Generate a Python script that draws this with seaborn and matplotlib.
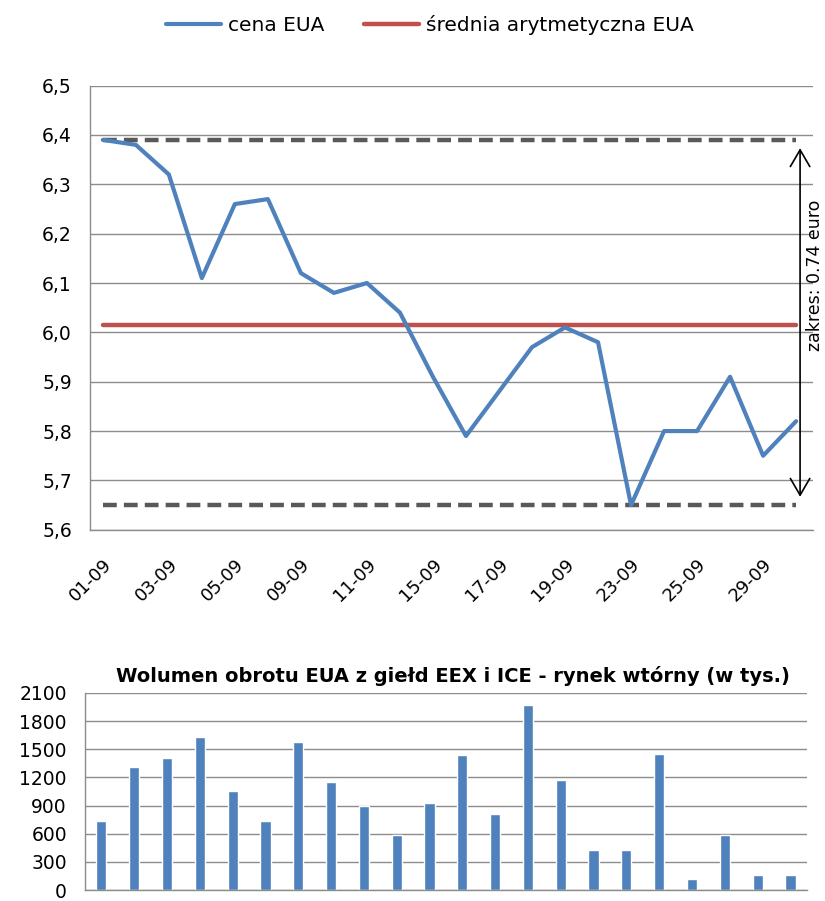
import numpy as np
import pandas as pd
import matplotlib
matplotlib.use('Agg')
import matplotlib.pyplot as plt
import seaborn as sns

# Dane: notowania EUA, wrzesien (dni sesyjne)
dates = ['01-09', '02-09', '03-09', '04-09', '05-09', '08-09', '09-09', '10-09',
         '11-09', '12-09', '15-09', '16-09', '17-09', '18-09', '19-09', '22-09',
         '23-09', '24-09', '25-09', '26-09', '29-09', '30-09']
price = [6.39, 6.38, 6.32, 6.11, 6.26, 6.27, 6.12, 6.08, 6.10, 6.04, 5.91,
         5.79, 5.88, 5.97, 6.01, 5.98, 5.65, 5.80, 5.80, 5.91, 5.75, 5.82]
volume = [737, 1306, 1407, 1627, 1059, 737, 1578, 1149, 899, 585, 930,
          1435, 815, 1975, 1174, 429, 429, 1445, 121, 588, 159, 159]

price_ticks = [5.6, 5.7, 5.8, 5.9, 6.0, 6.1, 6.2, 6.3, 6.4, 6.5]
volume_ticks = [0, 300, 600, 900, 1200, 1500, 1800, 2100]

BLUE = '#4F81BD'
RED = '#C0504D'
GRID = '#8C8C8C'
DASH = '#595959'

sns.set_style('white')
plt.rcParams['font.family'] = ['DejaVu Sans']
plt.rcParams['text.color'] = 'black'
plt.rcParams['xtick.labelcolor'] = 'black'
plt.rcParams['ytick.labelcolor'] = 'black'

df = pd.DataFrame({'data': dates, 'cena': price, 'wolumen': volume})
df['pos'] = np.arange(len(df))
n = len(df)
mean_price = df['cena'].mean()
pmax, pmin = df['cena'].max(), df['cena'].min()

fig = plt.figure(figsize=(8.25, 9.01), dpi=100)
ax1 = fig.add_axes([0.109, 0.412, 0.876, 0.493])
ax2 = fig.add_axes([0.103, 0.012, 0.875, 0.219])

# --- wykres ceny ---
sns.lineplot(data=df, x='pos', y='cena', ax=ax1, color=BLUE, linewidth=3,
             label='cena EUA', zorder=4)
ax1.plot([0, n - 1], [mean_price, mean_price], color=RED, linewidth=3.2,
         label='średnia arytmetyczna EUA', zorder=3)
for v in (pmax, pmin):
    ax1.plot([0, n - 1], [v, v], color=DASH, linewidth=3.2, dashes=(3.1, 1.6),
             zorder=2)

ax1.annotate('', xy=(n - 1 + 0.12, pmax), xytext=(n - 1 + 0.12, pmin),
             arrowprops=dict(arrowstyle='<->,head_length=0.6,head_width=0.35',
                             color='black', lw=1.2, shrinkA=6, shrinkB=6,
                             mutation_scale=20), zorder=5)
fig.text(0.977, 0.694, f'zakres: {pmax - pmin:.2f} euro', rotation=90,
         ha='left', va='center', fontsize=12.5, color='black')

ax1.set_xlim(-0.39, n - 0.5)
ax1.set_ylim(5.6, 6.5)
ax1.set_yticks(price_ticks)
ax1.set_yticklabels([f'{t:.1f}'.replace('.', ',') for t in price_ticks],
                    fontsize=13.5)
ax1.set_xticks(df['pos'][::2])
ax1.set_xticklabels(df['data'][::2], rotation=45, ha='right', va='top',
                    rotation_mode='anchor', fontsize=13)
ax1.set_xticks(np.arange(0, n, 0.5), minor=True)
ax1.tick_params(axis='x', which='both', direction='inout', length=9,
                color=GRID, pad=14)
ax1.tick_params(axis='y', direction='out', length=7, color=GRID, pad=6)
ax1.grid(axis='y', color=GRID, linewidth=1)
ax1.set_xlabel('')
ax1.set_ylabel('')
for s in ('top', 'right'):
    ax1.spines[s].set_visible(False)
for s in ('left', 'bottom'):
    ax1.spines[s].set_color(GRID)
    ax1.spines[s].set_linewidth(1)
ax1.get_legend().remove()
h, l = ax1.get_legend_handles_labels()
fig.legend(h, l, loc='center', bbox_to_anchor=(0.521, 0.972), ncol=2,
           frameon=False, fontsize=14.5, handlelength=2.7, handletextpad=0.35,
           columnspacing=2.0)

# --- wykres wolumenu ---
sns.barplot(data=df, x='pos', y='wolumen', ax=ax2, color=BLUE, width=0.31,
            saturation=1)
ax2.set_xlim(-0.5, n - 0.5)
ax2.set_ylim(0, 2100)
ax2.set_yticks(volume_ticks)
ax2.set_yticklabels([str(t) for t in volume_ticks], fontsize=13.5)
ax2.set_xticks(np.arange(-0.5, n, 1.0))
ax2.set_xticklabels([])
ax2.tick_params(axis='x', direction='out', length=7, color=GRID)
ax2.tick_params(axis='y', direction='out', length=7, color=GRID, pad=6)
ax2.grid(axis='y', color=GRID, linewidth=1)
ax2.set_axisbelow(True)
ax2.set_xlabel('')
ax2.set_ylabel('')
for s in ('top', 'right'):
    ax2.spines[s].set_visible(False)
for s in ('left', 'bottom'):
    ax2.spines[s].set_color(GRID)
    ax2.spines[s].set_linewidth(1)
ax2.set_title('Wolumen obrotu EUA z giełd EEX i ICE - rynek wtórny (w tys.)',
              fontsize=14, fontweight='bold', pad=8, x=0.51)

fig.savefig('out.png', dpi=100)
